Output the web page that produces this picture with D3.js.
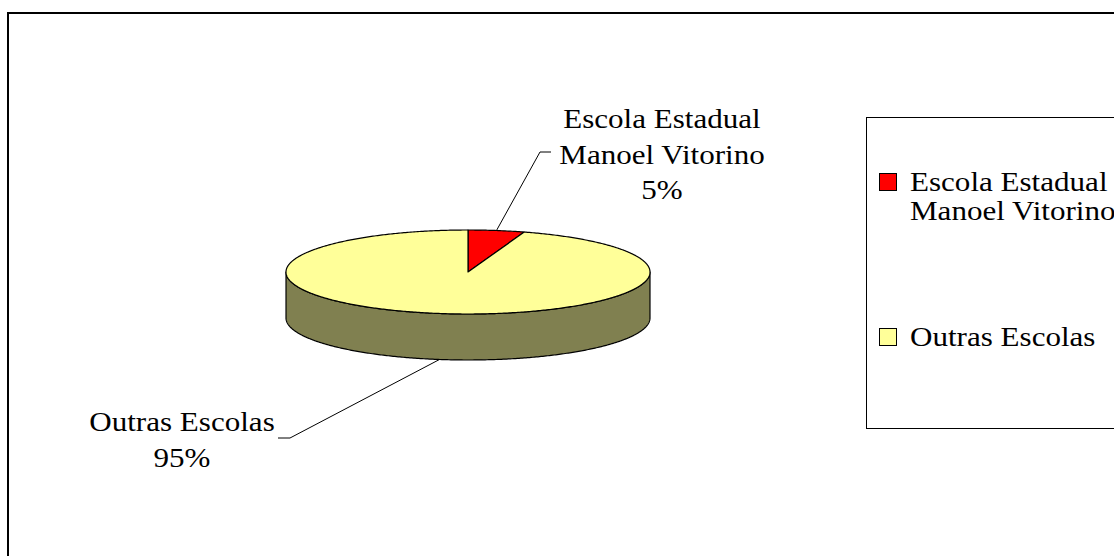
<!DOCTYPE html>
<html>
<head>
<meta charset="utf-8">
<script src="https://cdn.jsdelivr.net/npm/d3@7"></script>
<style>
  html, body { margin: 0; padding: 0; background: #fff; }
  svg { display: block; }
  text { font-family: "Liberation Serif", "Times New Roman", serif; fill: #000; }
</style>
</head>
<body>
<svg id="chart" width="1114" height="556"></svg>
<script>
// ---- data ----
const categories = ["Escola Estadual Manoel Vitorino", "Outras Escolas"];
const values = [5, 95];
const labelLines = [["Escola Estadual", "Manoel Vitorino", "5%"], ["Outras Escolas", "95%"]];
const legendLines = [["Escola Estadual", "Manoel Vitorino"], ["Outras Escolas"]];
const topColors = ["#FF0000", "#FFFF99"];
const sideColors = ["#800000", "#808050"];

// ---- layout ----
const W = 1114, H = 556;
const cx = 468, cy = 272, rx = 182, ry = 42, depth = 46;
const fontSize = 27.5, stretch = 1.13;

const svg = d3.select("#chart");

// outer frame (cropped on right/bottom)
svg.append("rect").attr("x", 8).attr("y", 13).attr("width", W + 20).attr("height", H + 20)
  .attr("fill", "#fff").attr("stroke", "#000").attr("stroke-width", 2);

const pie = d3.pie().sort(null).value(d => d)(values);

// projection: angle clockwise from 12 o'clock
const px = a => cx + rx * Math.sin(a);
const py = a => cy - ry * Math.cos(a);

function arcPoints(a0, a1, dy) {
  const n = Math.max(2, Math.ceil(Math.abs(a1 - a0) / 0.01));
  const pts = [];
  for (let i = 0; i <= n; i++) {
    const a = a0 + (a1 - a0) * i / n;
    pts.push([px(a), py(a) + dy]);
  }
  return pts;
}
const line = d3.line();

const g = svg.append("g");

// side walls (front half: angles between PI/2 and 3PI/2)
pie.forEach((d, i) => {
  const a0 = Math.max(d.startAngle, Math.PI / 2);
  const a1 = Math.min(d.endAngle, 3 * Math.PI / 2);
  if (a1 <= a0) return;
  const top = arcPoints(a0, a1, 0);
  const bottom = arcPoints(a1, a0, depth);
  g.append("path")
    .attr("d", line(top.concat(bottom)) + "Z")
    .attr("fill", sideColors[i]).attr("stroke", "#000").attr("stroke-width", 1.2)
    .attr("stroke-linejoin", "round");
});

// top faces
pie.forEach((d, i) => {
  const pts = [[cx, cy]].concat(arcPoints(d.startAngle, d.endAngle, 0));
  g.append("path")
    .attr("d", line(pts) + "Z")
    .attr("fill", topColors[i]).attr("stroke", "#000").attr("stroke-width", 1.2)
    .attr("stroke-linejoin", "round");
});

// labels with leader lines
const labelPos = [{x: 662, y: 128, elbow: [540, 152], end: 551}, {x: 182, y: 431, elbow: [290, 438], end: 278}];
const lineH = 35.5;
pie.forEach((d, i) => {
  const mid = (d.startAngle + d.endAngle) / 2;
  const front = Math.cos(mid) < 0;
  const start = [px(mid), py(mid) + (front ? depth : 0)];
  const lp = labelPos[i];
  svg.append("path")
    .attr("d", line([start, lp.elbow, [lp.end, lp.elbow[1]]]))
    .attr("fill", "none").attr("stroke", "#000").attr("stroke-width", 1);
  labelLines[i].forEach((t, k) => {
    svg.append("text")
      .attr("transform", `translate(${lp.x},${lp.y + k * lineH}) scale(${stretch},1)`)
      .attr("text-anchor", "middle")
      .attr("font-size", fontSize)
      .text(t);
  });
});

// legend
const leg = svg.append("g");
leg.append("rect").attr("x", 866.5).attr("y", 117.5).attr("width", 300).attr("height", 311)
  .attr("fill", "#fff").attr("stroke", "#000").attr("stroke-width", 1);
const legY = [191, 346];
categories.forEach((c, i) => {
  leg.append("rect").attr("x", 879.5).attr("y", legY[i] - 17.5).attr("width", 17).attr("height", 17)
    .attr("fill", topColors[i]).attr("stroke", "#000").attr("stroke-width", 1);
  legendLines[i].forEach((t, k) => {
    leg.append("text")
      .attr("transform", `translate(910,${legY[i] + k * 29}) scale(${stretch},1)`)
      .attr("font-size", fontSize)
      .text(t);
  });
});
</script>
</body>
</html>
